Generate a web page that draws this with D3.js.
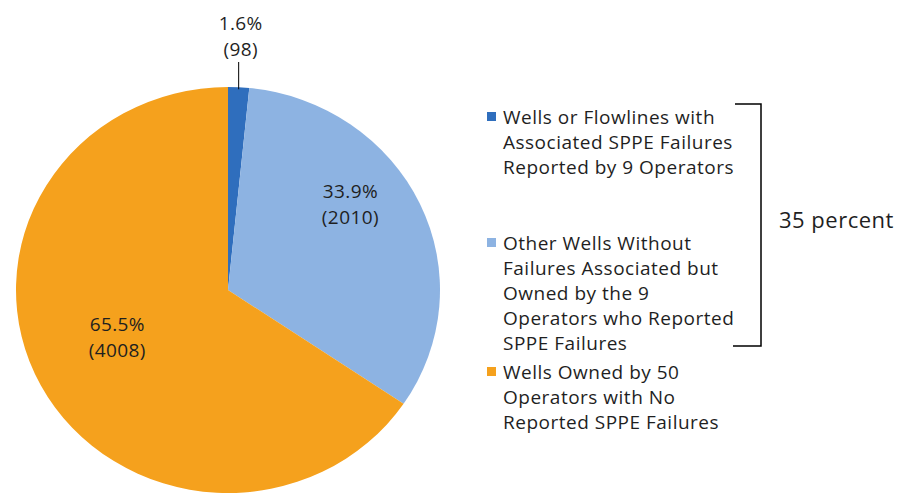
<!DOCTYPE html>
<html>
<head>
<meta charset="utf-8">
<script src="https://cdn.jsdelivr.net/npm/d3@7"></script>
<style>
  body { margin: 0; background: #fff; }
  svg text { font-family: "Open Sans", Lato, sans-serif; fill: #1f1f1f; }
</style>
</head>
<body>
<svg width="911" height="498"></svg>
<script>
// data
const categories = [
  "Wells or Flowlines with Associated SPPE Failures Reported by 9 Operators",
  "Other Wells Without Failures Associated but Owned by the 9 Operators who Reported SPPE Failures",
  "Wells Owned by 50 Operators with No Reported SPPE Failures"
];
const wellCounts = [98, 2010, 4008];
const percentLabels = ["1.6%", "33.9%", "65.5%"];
const legendLines = [
  ["Wells or Flowlines with", "Associated SPPE Failures", "Reported by 9 Operators"],
  ["Other Wells Without", "Failures Associated but", "Owned by the 9", "Operators who Reported", "SPPE Failures"],
  ["Wells Owned by 50", "Operators with No", "Reported SPPE Failures"]
];
const colors = ["#2f6ebd", "#8db3e2", "#f5a11d"];
const bracketLabel = "35 percent";

const svg = d3.select("svg");

const cx = 228, cy = 290, r = 203, sx = 212 / 203;

const pie = d3.pie().sort(null).startAngle(0).endAngle(2 * Math.PI);
const arcs = pie(wellCounts);
const arc = d3.arc().innerRadius(0).outerRadius(r);

const g = svg.append("g").attr("transform", `translate(${cx},${cy})`);

g.append("g")
    .attr("transform", `scale(${sx},1)`)
  .selectAll("path")
  .data(arcs)
  .enter().append("path")
    .attr("d", arc)
    .attr("fill", (d, i) => colors[i]);

// label placement inside slices (radius, angle nudge in degrees)
const labelPos = [null, { r: 145, nudge: -11 }, { r: 116, nudge: 4 }];

function point(a, rad) {
  return [Math.sin(a) * rad * sx, -Math.cos(a) * rad];
}

arcs.forEach((d, i) => {
  const mid = (d.startAngle + d.endAngle) / 2;
  let x, y;
  if (labelPos[i]) {
    [x, y] = point(mid + labelPos[i].nudge * Math.PI / 180, labelPos[i].r);
    y -= 13;
  } else {
    // outside label with leader line
    const [ex, ey] = point(mid, r);
    x = ex;
    g.append("line")
        .attr("x1", ex).attr("x2", ex)
        .attr("y1", ey + 2).attr("y2", -228)
        .attr("stroke", "#000").attr("stroke-width", 1);
    y = -267;
    x += 2;
  }
  const t = g.append("text")
      .attr("text-anchor", "middle")
      .attr("font-size", 19)
      .attr("letter-spacing", 0.4);
  t.append("tspan").attr("x", x).attr("y", y).attr("dy", "0.35em").text(percentLabels[i]);
  t.append("tspan").attr("x", x).attr("y", y + 26).attr("dy", "0.35em").text(`(${wellCounts[i]})`);
});

// legend
const legend = svg.append("g").attr("transform", "translate(487,0)");
const legendTop = [117, 243, 372];
const lineH = 25;

legendLines.forEach((lines, i) => {
  const lg = legend.append("g").attr("transform", `translate(0,${legendTop[i]})`);
  lg.append("rect")
      .attr("x", 0).attr("y", -5)
      .attr("width", 9).attr("height", 9)
      .attr("fill", colors[i]);
  const t = lg.append("text").attr("font-size", 19).attr("letter-spacing", 0.5);
  lines.forEach((s, j) => {
    t.append("tspan").attr("x", 16).attr("y", j * lineH).attr("dy", "0.35em").text(s);
  });
});

// bracket spanning the first two legend entries
const bx = 761, bTop = 104, bBot = 346;
svg.append("path")
    .attr("d", `M735,${bTop}H${bx}V${bBot}H733`)
    .attr("fill", "none")
    .attr("stroke", "#000")
    .attr("stroke-width", 1.5);

svg.append("text")
    .attr("x", 779).attr("y", (bTop + bBot) / 2 - 5)
    .attr("dy", "0.35em")
    .attr("font-size", 22)
    .attr("letter-spacing", 0.5)
    .text(bracketLabel);
</script>
</body>
</html>
